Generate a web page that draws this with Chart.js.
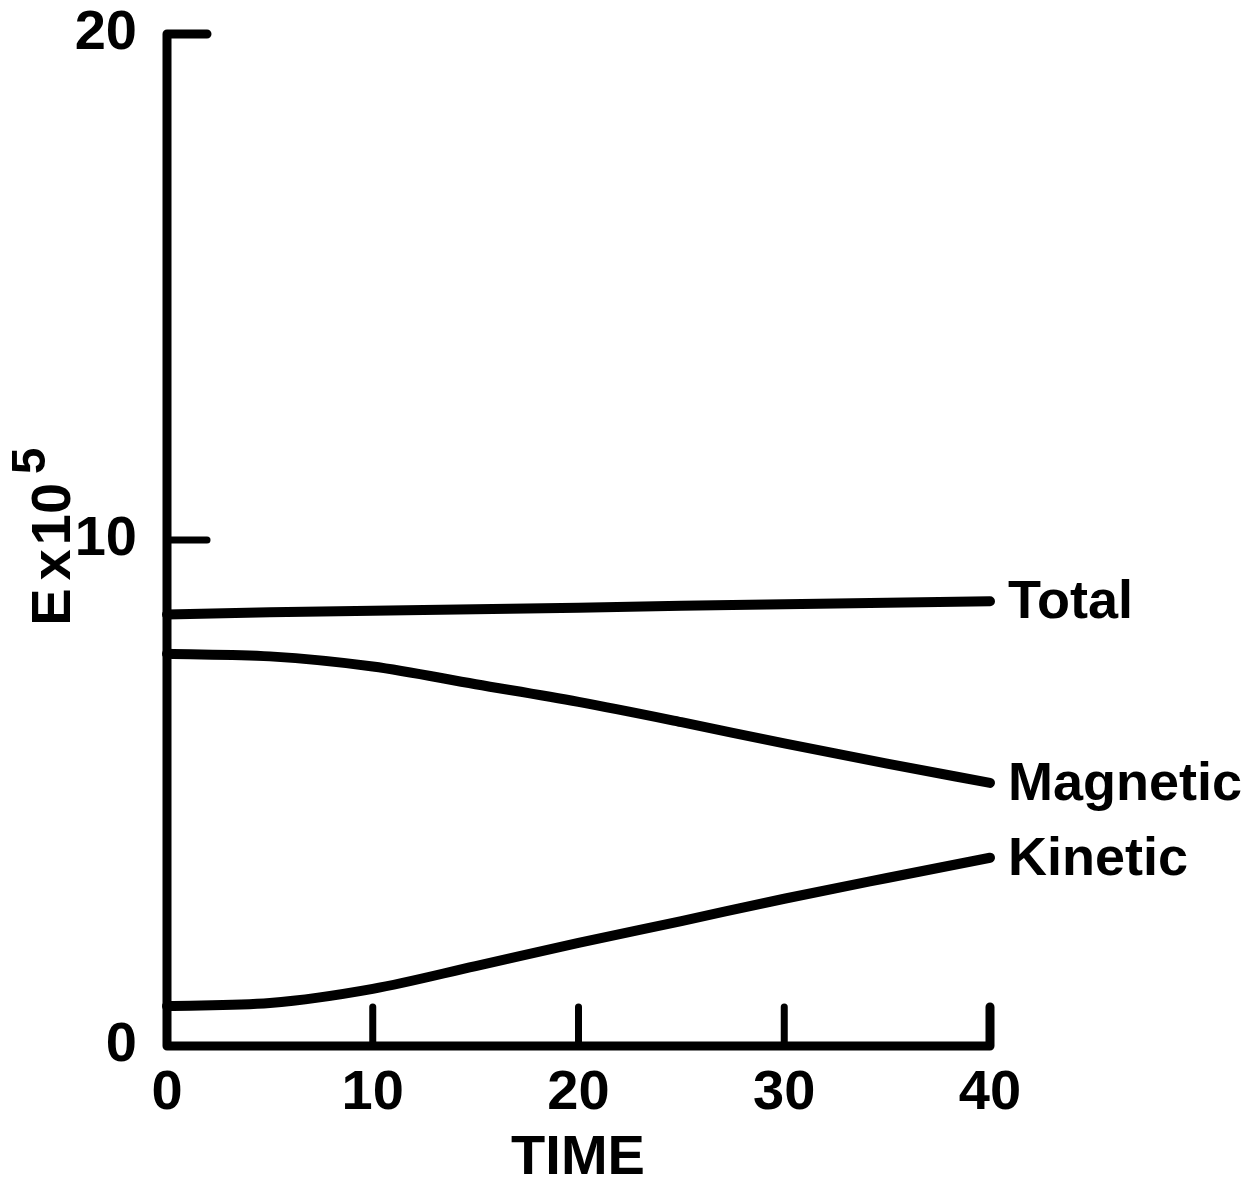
<!DOCTYPE html>
<html><head><meta charset="utf-8">
<script src="https://cdn.jsdelivr.net/npm/chart.js@4/dist/chart.umd.min.js"></script>
<style>html,body{margin:0;padding:0;background:#fff}#wrap{width:1254px;height:1184px;position:relative}canvas{display:block}</style>
</head><body><div id="wrap"><canvas id="c" width="1254" height="1184"></canvas></div>
<script>
const timeValues = [0, 5, 10, 15, 20, 25, 30, 35, 40];
const totalEnergy = [8.53, 8.57, 8.60, 8.63, 8.66, 8.70, 8.73, 8.76, 8.79];
const magneticEnergy = [7.75, 7.70, 7.50, 7.15, 6.80, 6.40, 5.98, 5.58, 5.20];
const kineticEnergy = [0.79, 0.85, 1.13, 1.58, 2.04, 2.47, 2.91, 3.32, 3.72];
const seriesNames = ['Total', 'Magnetic', 'Kinetic'];
const xTickValues = [0, 10, 20, 30, 40];
const yTickValues = [0, 10, 20];
const xAxisTitle = 'TIME';
const yAxisTitleParts = ['E', 'x', '10', '5'];

const FONT = '"Liberation Sans", Arial, sans-serif';
const toPoints = arr => timeValues.map((t, i) => ({x: t, y: arr[i]}));

const ds = (label, arr) => ({
  label, data: toPoints(arr), borderColor: '#000', borderWidth: 10,
  pointRadius: 0, fill: false, cubicInterpolationMode: 'monotone',
  borderCapStyle: 'round', borderJoinStyle: 'round', clip: false
});

const axesPlugin = {
  id: 'axesPlugin',
  beforeDatasetsDraw(chart) {
    const {ctx, scales: {x, y}} = chart;
    const x0 = x.getPixelForValue(xTickValues[0]);
    const x1 = x.getPixelForValue(xTickValues[xTickValues.length - 1]);
    const y0 = y.getPixelForValue(yTickValues[0]);
    const y1 = y.getPixelForValue(yTickValues[yTickValues.length - 1]);
    ctx.save();
    ctx.strokeStyle = '#000'; ctx.lineCap = 'round'; ctx.lineJoin = 'round';
    ctx.lineWidth = 9;
    ctx.beginPath();
    ctx.moveTo(x0 + 40, y1); ctx.lineTo(x0, y1); ctx.lineTo(x0, y0);
    ctx.lineTo(x1, y0); ctx.lineTo(x1, y0 - 39);
    ctx.stroke();
    ctx.lineWidth = 7;
    xTickValues.slice(1, -1).forEach(v => {
      const px = x.getPixelForValue(v);
      ctx.beginPath(); ctx.moveTo(px, y0); ctx.lineTo(px, y0 - 39); ctx.stroke();
    });
    yTickValues.slice(1, -1).forEach(v => {
      const py = y.getPixelForValue(v);
      ctx.beginPath(); ctx.moveTo(x0, py); ctx.lineTo(x0 + 40, py); ctx.stroke();
    });
    ctx.restore();
  },
  afterDatasetsDraw(chart) {
    const {ctx} = chart;
    ctx.save();
    ctx.fillStyle = '#000';
    ctx.font = 'bold 54px ' + FONT;
    ctx.textAlign = 'left'; ctx.textBaseline = 'middle';
    chart.data.datasets.forEach((d, i) => {
      const meta = chart.getDatasetMeta(i);
      const last = meta.data[meta.data.length - 1];
      ctx.fillText(seriesNames[i], last.x + 18, last.y + 2);
    });
    // x title
    ctx.font = 'bold 56px ' + FONT;
    ctx.textAlign = 'center';
    ctx.fillText(xAxisTitle, 578, 1159);
    // y title (rotated)
    ctx.save();
    ctx.translate(70, 0);
    ctx.rotate(-Math.PI / 2);
    ctx.textBaseline = 'alphabetic';
    ctx.textAlign = 'center';
    ctx.font = 'bold 56px ' + FONT;
    ctx.fillText(yAxisTitleParts[0], -607, 0);
    ctx.fillText(yAxisTitleParts[1], -565, 0);
    ctx.fillText(yAxisTitleParts[2], -514, 0);
    ctx.font = 'bold 48px ' + FONT;
    ctx.fillText(yAxisTitleParts[3], -461, -25);
    ctx.restore();
    ctx.restore();
  }
};

new Chart(document.getElementById('c'), {
  type: 'line',
  data: {datasets: [ds(seriesNames[0], totalEnergy), ds(seriesNames[1], magneticEnergy), ds(seriesNames[2], kineticEnergy)]},
  options: {
    responsive: false, animation: false, devicePixelRatio: 1,
    layout: {padding: {top: 34, right: 264, left: 0, bottom: 0}},
    plugins: {legend: {display: false}, tooltip: {enabled: false}, title: {display: false}},
    scales: {
      x: {
        type: 'linear', min: 0, max: 40,
        afterBuildTicks: s => { s.ticks = xTickValues.map(v => ({value: v})); },
        afterFit: s => { s.height = 138; s.paddingLeft = 0; s.paddingRight = 0; },
        grid: {display: false, drawTicks: false, tickLength: 0}, border: {display: false},
        ticks: {color: '#000', font: {family: FONT, size: 56, weight: 'bold'}, padding: 14, maxRotation: 0, autoSkip: false}
      },
      y: {
        type: 'linear', min: 0, max: 20,
        afterBuildTicks: s => { s.ticks = yTickValues.map(v => ({value: v})); },
        afterFit: s => { s.width = 167; s.paddingTop = 0; s.paddingBottom = 0; },
        grid: {display: false, drawTicks: false, tickLength: 0}, border: {display: false},
        ticks: {color: '#000', font: {family: FONT, size: 56, weight: 'bold'}, padding: 30, autoSkip: false}
      }
    }
  },
  plugins: [axesPlugin]
});
</script>
</body></html>
